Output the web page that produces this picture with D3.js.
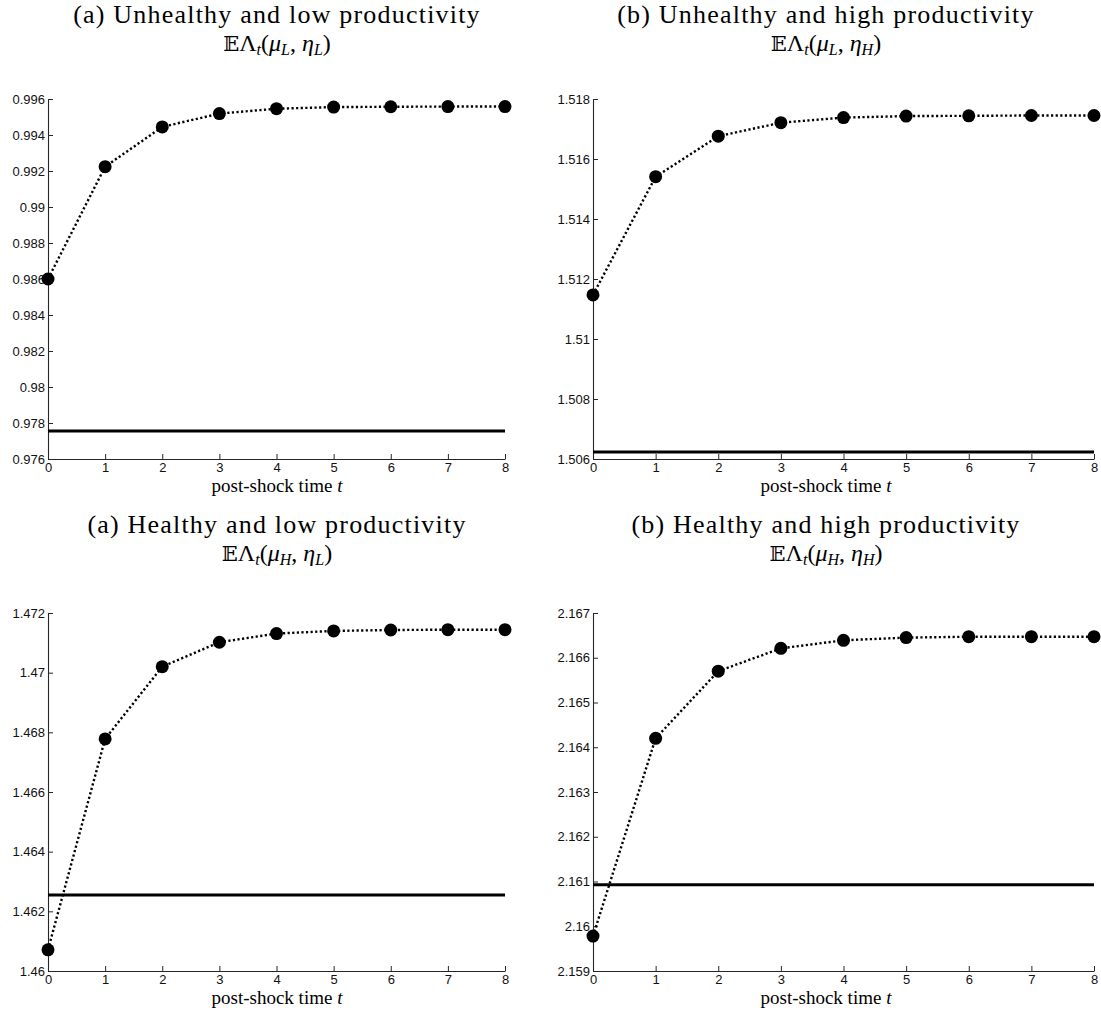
<!DOCTYPE html>
<html>
<head>
<meta charset="utf-8">
<script src="https://cdn.jsdelivr.net/npm/d3@7"></script>
<style>
  html, body { margin: 0; padding: 0; background: #fff; }
  svg { display: block; }
</style>
</head>
<body>
<svg id="chart" width="1101" height="1023"></svg>
<script>
// ---------------- data ----------------
const steps = [0, 1, 2, 3, 4, 5, 6, 7, 8];
const xTickLabels = ["0", "1", "2", "3", "4", "5", "6", "7", "8"];

const titleLines = [
  "(a) Unhealthy and low productivity",
  "(b) Unhealthy and high productivity",
  "(a) Healthy and low productivity",
  "(b) Healthy and high productivity"
];
const muSubs = ["L", "L", "H", "H"];
const etaSubs = ["L", "H", "L", "H"];
const xLabelText = "post-shock time ";
const xLabelVar = "t";

const seriesUL = [0.98600, 0.99224, 0.99445, 0.99519, 0.99546, 0.99555, 0.99557, 0.99558, 0.99558];
const seriesUH = [1.51147, 1.51541, 1.51676, 1.51721, 1.51738, 1.51743, 1.51744, 1.51745, 1.51745];
const seriesHL = [1.46071, 1.46778, 1.47020, 1.47102, 1.47131, 1.47140, 1.47143, 1.47144, 1.47144];
const seriesHH = [2.15978, 2.16420, 2.16570, 2.16621, 2.16639, 2.16645, 2.16647, 2.16647, 2.16647];

const baselineUL = 0.97756;
const baselineUH = 1.50623;
const baselineHL = 1.46255;
const baselineHH = 2.16093;

const domainUL = [0.976, 0.996];
const domainUH = [1.506, 1.518];
const domainHL = [1.460, 1.472];
const domainHH = [2.159, 2.167];

const ticksUL = [0.976, 0.978, 0.980, 0.982, 0.984, 0.986, 0.988, 0.990, 0.992, 0.994, 0.996];
const tickLabelsUL = ["0.976", "0.978", "0.98", "0.982", "0.984", "0.986", "0.988", "0.99", "0.992", "0.994", "0.996"];
const ticksUH = [1.506, 1.508, 1.510, 1.512, 1.514, 1.516, 1.518];
const tickLabelsUH = ["1.506", "1.508", "1.51", "1.512", "1.514", "1.516", "1.518"];
const ticksHL = [1.460, 1.462, 1.464, 1.466, 1.468, 1.470, 1.472];
const tickLabelsHL = ["1.46", "1.462", "1.464", "1.466", "1.468", "1.47", "1.472"];
const ticksHH = [2.159, 2.160, 2.161, 2.162, 2.163, 2.164, 2.165, 2.166, 2.167];
const tickLabelsHH = ["2.159", "2.16", "2.161", "2.162", "2.163", "2.164", "2.165", "2.166", "2.167"];

// ---------------- layout ----------------
const panels = [
  { series: seriesUL, base: baselineUL, domain: domainUL, ticks: ticksUL, labels: tickLabelsUL, x0: 48,  x1: 505,  y0: 99,  y1: 459, tX: 277, tY: 23 },
  { series: seriesUH, base: baselineUH, domain: domainUH, ticks: ticksUH, labels: tickLabelsUH, x0: 593, x1: 1094, y0: 99,  y1: 459, tX: 826, tY: 23 },
  { series: seriesHL, base: baselineHL, domain: domainHL, ticks: ticksHL, labels: tickLabelsHL, x0: 48,  x1: 505,  y0: 613, y1: 971, tX: 277, tY: 533 },
  { series: seriesHH, base: baselineHH, domain: domainHH, ticks: ticksHH, labels: tickLabelsHH, x0: 593, x1: 1094, y0: 613, y1: 971, tX: 826, tY: 533 }
];

const svg = d3.select("#chart");
const axisColor = "#262626";
const serif = "'Liberation Serif', 'Times New Roman', serif";

panels.forEach((p, i) => {
  const x = d3.scaleLinear().domain([steps[0], steps[steps.length - 1]]).range([p.x0, p.x1]);
  const y = d3.scaleLinear().domain(p.domain).range([p.y1, p.y0]);
  const g = svg.append("g");

  // axes
  const yAxis = d3.axisLeft(y).tickValues(p.ticks)
    .tickFormat((d, k) => p.labels[k]).tickSizeInner(-5).tickSizeOuter(0).tickPadding(3);
  const xAxis = d3.axisBottom(x).tickValues(steps)
    .tickFormat((d, k) => xTickLabels[k]).tickSizeInner(-5).tickSizeOuter(0).tickPadding(4);

  const gy = g.append("g").attr("transform", `translate(${p.x0},0)`).call(yAxis);
  const gx = g.append("g").attr("transform", `translate(0,${p.y1})`).call(xAxis);
  [gx, gy].forEach(a => {
    a.select(".domain").attr("stroke", axisColor).attr("stroke-width", 1.1);
    a.selectAll(".tick line").attr("stroke", axisColor).attr("stroke-width", 1);
    a.selectAll(".tick text").attr("fill", "#111")
      .style("font-family", "'Liberation Sans', Arial, Helvetica, sans-serif")
      .style("font-size", "13px");
  });

  // baseline (solid)
  g.append("line")
    .attr("x1", x(steps[0])).attr("x2", x(steps[steps.length - 1]))
    .attr("y1", y(p.base)).attr("y2", y(p.base))
    .attr("stroke", "#000").attr("stroke-width", 3);

  // dotted path
  const line = d3.line().x((d, k) => x(steps[k])).y(d => y(d));
  g.append("path").datum(p.series)
    .attr("d", line).attr("fill", "none")
    .attr("stroke", "#000").attr("stroke-width", 2.4)
    .attr("stroke-dasharray", "2.2,2.4");

  // markers
  g.selectAll("circle.pt").data(p.series).join("circle")
    .attr("class", "pt")
    .attr("cx", (d, k) => x(steps[k])).attr("cy", d => y(d))
    .attr("r", 6.5).attr("fill", "#000");

  // titles (subfigure captions)
  g.append("text")
    .attr("x", p.tX).attr("y", p.tY)
    .attr("text-anchor", "middle")
    .style("font-family", serif)
    .style("font-size", "26px")
    .style("letter-spacing", "1.2px")
    .attr("fill", "#000")
    .text(titleLines[i]);

  const mt = g.append("text")
    .attr("x", p.tX).attr("y", p.tY + 28)
    .attr("text-anchor", "middle")
    .style("font-family", serif)
    .style("font-size", "24px")
    .attr("fill", "#000");
  mt.append("tspan").style("font-family", "'DejaVu Serif', 'DejaVu Sans', serif").style("font-size", "21px").text("\u{1D53C}");
  mt.append("tspan").text("\u039B");
  mt.append("tspan").attr("dy", 4).style("font-size", "16px").style("font-style", "italic").text("t");
  mt.append("tspan").attr("dy", -4).text("(");
  mt.append("tspan").style("font-style", "italic").text("\u03BC");
  mt.append("tspan").attr("dy", 4).style("font-size", "16px").style("font-style", "italic").text(muSubs[i]);
  mt.append("tspan").attr("dy", -4).text(", ");
  mt.append("tspan").style("font-style", "italic").text("\u03B7");
  mt.append("tspan").attr("dy", 4).style("font-size", "16px").style("font-style", "italic").text(etaSubs[i]);
  mt.append("tspan").attr("dy", -4).text(")");

  // x label
  const xl = g.append("text")
    .attr("x", p.tX).attr("y", p.y1 + 33)
    .attr("text-anchor", "middle")
    .style("font-family", serif)
    .style("font-size", "19px")
    .attr("fill", "#000");
  xl.append("tspan").text(xLabelText);
  xl.append("tspan").style("font-style", "italic").text(xLabelVar);
});
</script>
</body>
</html>
